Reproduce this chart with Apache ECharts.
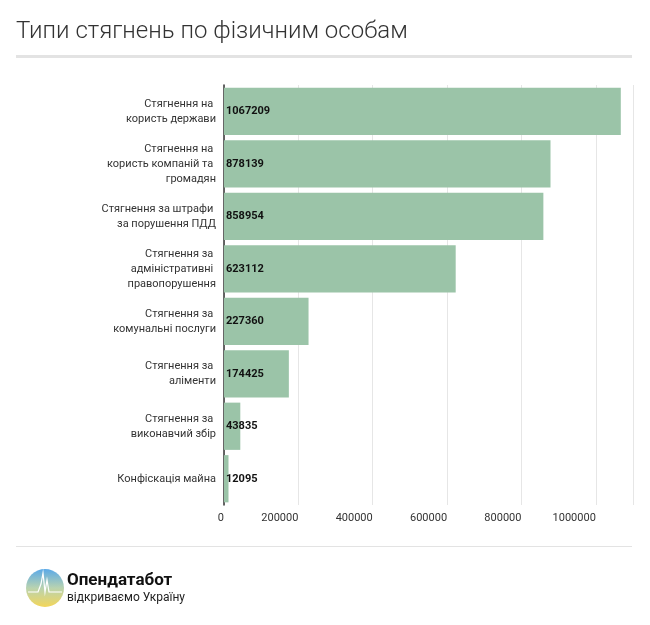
<!DOCTYPE html>
<html><head><meta charset="utf-8">
<script src="https://cdn.jsdelivr.net/npm/echarts@6/dist/echarts.min.js"></script>
<style>body{margin:0;background:#fff}#c{width:650px;height:625px}</style>
</head><body><div id="c"></div>
<script>
const categories = ["Стягнення на користь держави","Стягнення на користь компаній та громадян","Стягнення за штрафи за порушення ПДД","Стягнення за адміністративні правопорушення","Стягнення за комунальні послуги","Стягнення за аліменти","Стягнення за виконавчий збір","Конфіскація майна"];
const values = [1067209,878139,858954,623112,227360,174425,43835,12095];
const chart = echarts.init(document.getElementById('c'));
const F = 'Roboto, "Noto Sans", sans-serif';
chart.setOption({
  animation:false,
  textStyle:{fontFamily:F},
  grid:{left:224,right:17,top:85,bottom:120},
  graphic:[
    {type:'text',left:16,top:20,style:{text:'Типи стягнень по фізичним особам',fontSize:24,fontWeight:300,fill:'#333',fontFamily:F}},
    {type:'rect',shape:{x:16,y:55,width:616,height:3},style:{fill:'#e3e3e3'}},
    {type:'rect',shape:{x:16,y:546,width:616,height:1},style:{fill:'#e3e3e3'}},
    {type:'circle',shape:{cx:45,cy:588,r:19},style:{fill:new echarts.graphic.LinearGradient(0,0,0,1,[{offset:0,color:'#5aa9e8'},{offset:0.5,color:'#b9d3b0'},{offset:1,color:'#f3d65a'}])}},
    {type:'polyline',shape:{points:[[28,592],[38,592],[41,584],[43,573],[45,592],[47,580],[49,592],[62,592]]},style:{stroke:'#fff',lineWidth:1.2,fill:null}},
    {type:'text',left:67,top:572,style:{text:'Опендатабот',fontSize:17,fontWeight:'bold',fill:'#111',fontFamily:F}},
    {type:'text',left:67,top:592,style:{text:'відкриваємо Україну',fontSize:12,fill:'#222',fontFamily:F}}
  ],
  xAxis:{type:'value',min:0,max:1100000,interval:200000,
    axisLabel:{color:'#333',fontSize:11,align:'right',margin:8,formatter:v=>v>1000000?'':String(v)},
    splitLine:{lineStyle:{color:'#e6e6e6'}},axisLine:{show:false},axisTick:{show:false}},
  yAxis:{type:'category',data:categories,inverse:true,
    axisLine:{show:true,lineStyle:{color:'#333',width:1.5}},axisTick:{show:false},
    axisLabel:{color:'#333',fontSize:11,width:200,overflow:'break',align:'right',lineHeight:15}},
  series:[{type:'bar',data:values,barCategoryGap:'10%',itemStyle:{color:'#9bc4a8'},
    label:{show:true,position:'insideLeft',offset:[-3,0],color:'#111',fontWeight:'bold',fontSize:11,
      }}]
});
</script></body></html>
